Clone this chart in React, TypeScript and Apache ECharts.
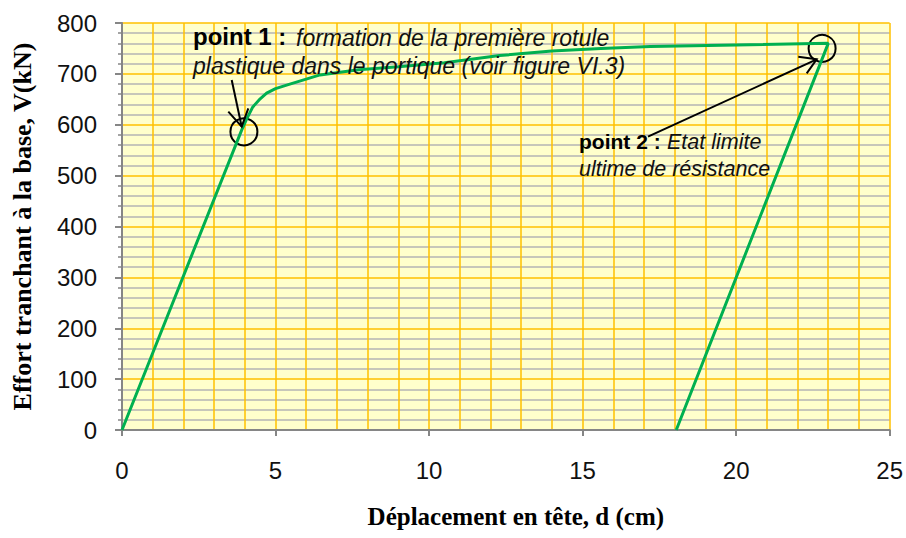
import React, { useEffect, useRef } from "react";
import * as echarts from "echarts";

// Data (displacement in cm, base shear in kN)
const dispX = [0, 3.9, 4.05, 4.26, 4.5, 4.71, 5.0, 5.36, 6.45, 7.7, 9.0, 10.5, 12.3, 14.0, 15.6, 17.2, 20.0, 23.0, 18.05];
const shearV = [0, 590, 610, 635, 651, 662, 671, 678, 698, 708, 714, 722, 736, 745, 750, 754, 757, 760, 0];

const xTicks = [0, 5, 10, 15, 20, 25];
const yTicks = [0, 100, 200, 300, 400, 500, 600, 700, 800];

const point1 = [3.97, 586];
const point2 = [22.8, 750];

const xTitle = "Déplacement en tête, d (cm)";
const yTitle = "Effort tranchant à la base, V(kN)";

export default function App() {
  const ref = useRef<HTMLDivElement>(null);
  useEffect(() => {
    if (!ref.current) return;
    const chart = echarts.init(ref.current, undefined, { renderer: "svg" });
    const orange = "#FFC000";
    const gray = "#B4B4B4";
    const axisGray = "#868686";
    const labelFont = "'Liberation Sans', Arial, sans-serif";
    const titleFont = "'Liberation Serif', 'Times New Roman', serif";
    const data = dispX.map((x, i) => [x, shearV[i]]);
    const black = "#000";
    chart.setOption({
      animation: false,
      backgroundColor: "#ffffff",
      grid: {
        left: 122,
        right: 16,
        top: 23,
        bottom: 108,
        show: true,
        backgroundColor: "#FFFFCC",
        borderWidth: 0,
      },
      xAxis: {
        type: "value",
        min: xTicks[0],
        max: xTicks[xTicks.length - 1],
        interval: 5,
        z: 1,
        name: xTitle,
        nameLocation: "middle",
        nameGap: 74,
        nameTextStyle: {
          fontFamily: titleFont,
          fontWeight: "bold",
          fontSize: 25,
          color: black,
          padding: [0, 0, 0, 20],
        },
        axisLine: { show: true, onZero: false, lineStyle: { color: axisGray, width: 2 } },
        axisTick: { show: true, length: 6, lineStyle: { color: axisGray, width: 2 } },
        axisLabel: { fontFamily: labelFont, fontSize: 24, color: "#111", margin: 28 },
        splitLine: { show: true, showMinLine: false, lineStyle: { color: orange, width: 1.5 } },
        minorTick: { show: false, splitNumber: 5 },
        minorSplitLine: { show: true, lineStyle: { color: orange, width: 1.5 } },
      },
      yAxis: {
        type: "value",
        min: yTicks[0],
        max: yTicks[yTicks.length - 1],
        interval: 100,
        z: 0,
        name: yTitle,
        nameLocation: "middle",
        nameGap: 87,
        nameRotate: 90,
        nameTextStyle: {
          fontFamily: titleFont,
          fontWeight: "bold",
          fontSize: 26,
          color: black,
          padding: [0, 0, 0, 0],
        },
        axisLine: { show: true, onZero: false, lineStyle: { color: axisGray, width: 2 } },
        axisTick: { show: true, length: 7, lineStyle: { color: axisGray, width: 2 } },
        axisLabel: { fontFamily: labelFont, fontSize: 24, color: "#111", margin: 25 },
        splitLine: { show: true, showMinLine: false, lineStyle: { color: orange, width: 1.5 } },
        minorTick: { show: true, splitNumber: 5, length: 4, lineStyle: { color: axisGray, width: 1.5 } },
        minorSplitLine: { show: true, lineStyle: { color: gray, width: 1.5 } },
      },
      series: [
        {
          type: "line",
          data,
          z: 5,
          showSymbol: false,
          symbol: "none",
          smooth: false,
          lineStyle: { color: "#00B050", width: 3 },
          markPoint: {
            symbol: "circle",
            symbolSize: 27,
            silent: true,
            label: { show: false },
            itemStyle: { color: "rgba(0,0,0,0)", borderColor: black, borderWidth: 2 },
            data: [{ coord: point1 }, { coord: point2 }],
          },
        },
      ],
      graphic: [
        // annotation point 1
        {
          type: "text",
          left: 193,
          top: 24,
          z: 10,
          style: { text: "point 1 :", font: `bold 24px ${labelFont}`, fill: black },
        },
        {
          type: "text",
          left: 296,
          top: 26,
          z: 10,
          style: { text: "formation de la première rotule", font: `italic 23px ${labelFont}`, fill: "#111" },
        },
        {
          type: "text",
          left: 193,
          top: 54,
          z: 10,
          style: { text: "plastique dans le portique (voir figure VI.3)", font: `italic 23px ${labelFont}`, fill: "#111" },
        },
        {
          type: "polyline",
          z: 10,
          shape: { points: [[231.7, 80], [241.7, 126.7]] },
          style: { stroke: black, lineWidth: 2, fill: null },
        },
        {
          type: "polyline",
          z: 10,
          shape: { points: [[228.3, 111.7], [241.7, 126.7], [248.3, 108.3]] },
          style: { stroke: black, lineWidth: 2, fill: null },
        },
        // annotation point 2
        {
          type: "text",
          left: 579,
          top: 131,
          z: 10,
          style: { text: "point 2 :", font: `bold 21px ${labelFont}`, fill: black },
        },
        {
          type: "text",
          left: 667,
          top: 131,
          z: 10,
          style: { text: "Etat limite", font: `italic 21.5px ${labelFont}`, fill: "#111" },
        },
        {
          type: "text",
          left: 579,
          top: 158,
          z: 10,
          style: { text: "ultime de résistance", font: `italic 21.5px ${labelFont}`, fill: "#111" },
        },
        {
          type: "polyline",
          z: 10,
          shape: { points: [[648, 136.7], [816.7, 59.3]] },
          style: { stroke: black, lineWidth: 2, fill: null },
        },
        {
          type: "polyline",
          z: 10,
          shape: { points: [[798.3, 56.7], [816.7, 59.3], [806.7, 73.3]] },
          style: { stroke: black, lineWidth: 2, fill: null },
        },
      ],
    });
    return () => chart.dispose();
  }, []);
  return (
    <div
      ref={ref}
      style={{ position: "absolute", left: 0, top: 0, width: 906, height: 538 }}
    />
  );
}
